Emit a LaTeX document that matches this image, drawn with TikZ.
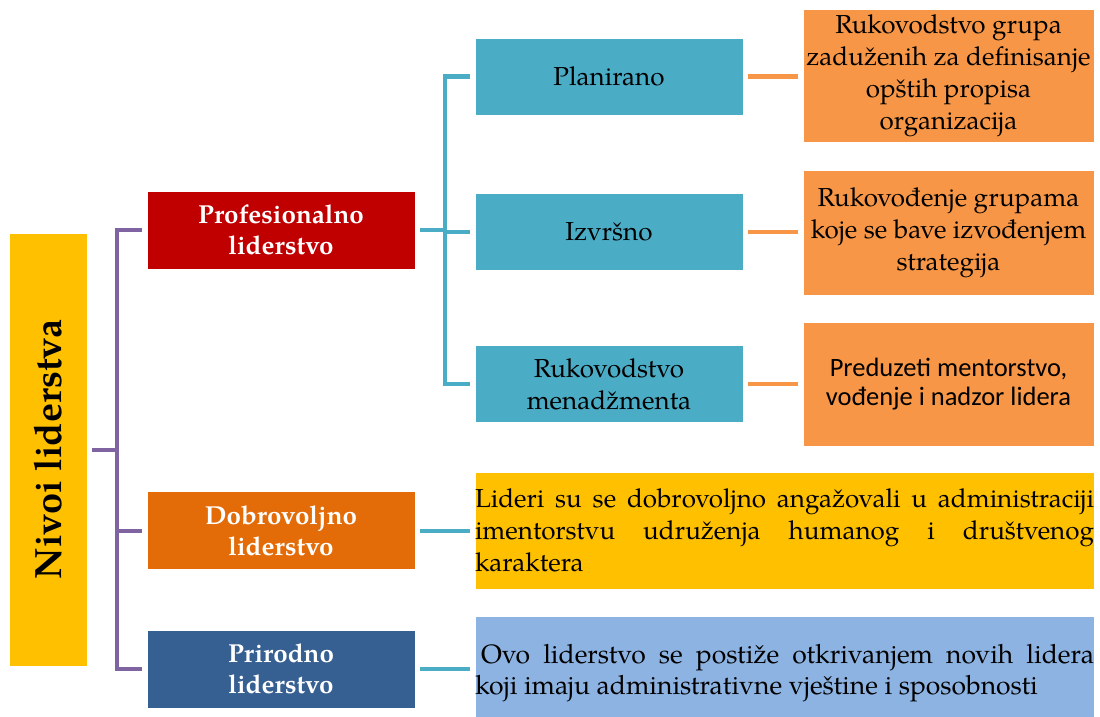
\documentclass[tikz,border=0pt]{standalone}
\usepackage{fontspec}
\setmainfont{texgyrepagella}[Extension=.otf, UprightFont=*-regular, BoldFont=*-bold, ItalicFont=*-italic, BoldItalicFont=*-bolditalic]
\newfontfamily\calibri{Carlito}
\definecolor{nivoiY}{HTML}{FFC000}
\definecolor{profR}{HTML}{C00000}
\definecolor{dobO}{HTML}{E36C09}
\definecolor{prirB}{HTML}{376092}
\definecolor{subT}{HTML}{4BACC6}
\definecolor{descO}{HTML}{F79646}
\definecolor{natB}{HTML}{8DB3E2}
\definecolor{lineP}{HTML}{8064A2}
\tikzset{
  box/.style={rectangle, inner sep=0pt, draw=white, line width=0.6pt, align=center},
  lvl/.style={box, minimum width=268pt, minimum height=78pt, text=white, font=\fontsize{26}{31}\selectfont\bfseries},
  sub/.style={box, fill=subT, minimum width=268pt, minimum height=77pt, font=\fontsize{26}{32}\selectfont},
  desc/.style={box, fill=descO, minimum width=291pt, font=\fontsize{26}{32}\selectfont},
  wide/.style={box, minimum width=619pt, font=\fontsize{26}{32}\selectfont, align=left},
  conn/.style={line width=4pt},
}
\begin{document}
\begin{tikzpicture}[x=1pt,y=-1pt]
\useasboundingbox (0,0) rectangle (1100,717);
% root
\node[box, fill=nivoiY, minimum width=78pt, minimum height=433pt, font=\fontsize{38}{44}\selectfont\bfseries] (nivoi) at (48,449.5) {\rotatebox{90}{Nivoi liderstva}};
% levels
\node[lvl, fill=profR] (prof) at (281,230) {Profesionalno\\liderstvo};
\node[lvl, fill=dobO] (dobro) at (281,530.5) {Dobrovoljno\\liderstvo};
\node[lvl, fill=prirB] (prir) at (281,669) {Prirodno\\liderstvo};
% sub levels
\node[sub] (plan) at (609,76.5) {Planirano};
\node[sub] (izv) at (609,232) {Izvršno};
\node[sub] (ruk) at (609,384) {Rukovodstvo\\menadžmenta};
% descriptions
\node[desc, minimum height=133pt] (o1) at (948.5,76) {Rukovodstvo grupa\\zaduženih za definisanje\\opštih propisa\\organizacija};
\node[desc, minimum height=125pt] (o2) at (948.5,232.5) {Rukovođenje grupama\\koje se bave izvođenjem\\strategija};
\node[desc, minimum height=124pt, font=\calibri\fontsize{26.5}{29}\selectfont] (o3) at (948.5,384) {Preduzeti mentorstvo,\\vođenje i nadzor lidera};
\node[wide, fill=nivoiY, minimum height=117pt] (yel) at (784.5,530.5) {\makebox[619pt][s]{Lideri su se dobrovoljno angažovali u administraciji}\\\makebox[619pt][s]{imentorstvu udruženja humanog i društvenog}\\karaktera};
\node[wide, fill=natB, minimum height=101pt] (nat) at (784.5,666.5) {};
\node[inner sep=0pt, align=left, font=\fontsize{26.5}{31}\selectfont] (natT) at (784.5,673.5) {\makebox[619pt][s]{\hspace{6pt}Ovo liderstvo se postiže otkrivanjem novih lidera}\\koji imaju administrativne vještine i sposobnosti};
% purple bracket
\draw[conn, lineP] ([xshift=-5pt]prof.west) -| ([xshift=-30pt]prir.west) -- ([xshift=-5pt]prir.west);
\draw[conn, lineP] ([xshift=-5pt]dobro.west) -- ([xshift=-30pt]dobro.west);
\draw[conn, lineP] ([xshift=5pt]nivoi.east) -- ([xshift=-30pt]prof.west |- nivoi.east);
% teal bracket
\draw[conn, subT] ([xshift=-5pt]plan.west) -| ([xshift=-30pt]ruk.west) -- ([xshift=-5pt]ruk.west);
\draw[conn, subT] ([xshift=-5pt]izv.west) -- ([xshift=-30pt]izv.west);
\draw[conn, subT] ([xshift=5pt]prof.east) -- ([xshift=-30pt]plan.west |- prof.east);
\draw[conn, subT] ([xshift=5pt]dobro.east) -- ([xshift=-5pt]yel.west |- dobro.east);
\draw[conn, subT] ([xshift=5pt]prir.east) -- ([xshift=-5pt]nat.west |- prir.east);
% orange ticks
\draw[conn, descO] ([xshift=5pt]plan.east) -- ([xshift=-5pt]o1.west |- plan.east);
\draw[conn, descO] ([xshift=5pt]izv.east) -- ([xshift=-5pt]o2.west |- izv.east);
\draw[conn, descO] ([xshift=5pt]ruk.east) -- ([xshift=-5pt]o3.west |- ruk.east);
\end{tikzpicture}
\end{document}
